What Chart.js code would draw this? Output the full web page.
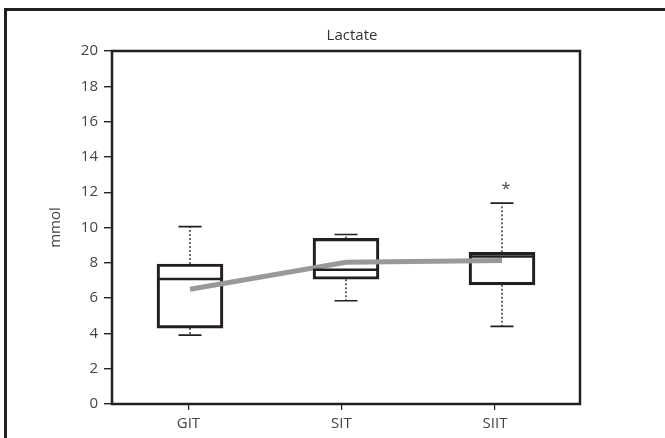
<!DOCTYPE html>
<html>
<head>
<meta charset="utf-8">
<script src="https://cdn.jsdelivr.net/npm/chart.js@4/dist/chart.umd.min.js"></script>
<style>
  html, body { margin: 0; padding: 0; background: #fff; }
  #wrap { width: 665px; height: 438px; position: relative; }
</style>
</head>
<body>
<div id="wrap"><canvas id="lactateChart" width="665" height="438"></canvas></div>
<script>
// values (mmol)
const categories = ["GIT", "SIT", "SIIT"];
const whiskerLow = [3.9, 5.85, 4.4];
const q1 = [4.3, 7.07, 6.75];
const median = [7.08, 7.6, 8.35];
const q3 = [7.93, 9.38, 8.6];
const whiskerHigh = [10.05, 9.6, 11.38];
const means = [6.5, 8.03, 8.13];
const outlierMark = [null, null, 12.3];
// label positions on the x axis, slightly off the box centres in the original
const tickPositions = [0.99, 1.97, 2.955];

const INK = "#231f20";
const TEXT = "#444";
const FONT = "'Open Sans', 'DejaVu Sans', sans-serif";

const boxPlotParts = {
  id: "boxPlotParts",
  beforeDatasetsDraw(chart) {
    const { ctx, scales: { x, y } } = chart;
    ctx.save();
    categories.forEach((_, i) => {
      const cx = x.getPixelForValue(i + 1);
      const half = 11.5;
      // dotted whiskers
      ctx.strokeStyle = INK;
      ctx.lineWidth = 1.3;
      ctx.setLineDash([2, 2]);
      ctx.beginPath();
      ctx.moveTo(cx, y.getPixelForValue(q3[i]));
      ctx.lineTo(cx, y.getPixelForValue(whiskerHigh[i]));
      ctx.moveTo(cx, y.getPixelForValue(q1[i]));
      ctx.lineTo(cx, y.getPixelForValue(whiskerLow[i]));
      ctx.stroke();
      // caps
      ctx.setLineDash([]);
      ctx.lineWidth = 1.6;
      ctx.beginPath();
      [whiskerHigh[i], whiskerLow[i]].forEach((v) => {
        const py = y.getPixelForValue(v);
        ctx.moveTo(cx - half, py);
        ctx.lineTo(cx + half, py);
      });
      ctx.stroke();
    });
    ctx.restore();
  },
  afterDatasetsDraw(chart) {
    const { ctx, scales: { x, y } } = chart;
    ctx.save();
    ctx.strokeStyle = INK;
    ctx.lineWidth = 2.5;
    categories.forEach((_, i) => {
      const cx = x.getPixelForValue(i + 1);
      const py = y.getPixelForValue(median[i]);
      ctx.beginPath();
      ctx.moveTo(cx - 33, py);
      ctx.lineTo(cx + 33, py);
      ctx.stroke();
      if (outlierMark[i] != null) {
        ctx.fillStyle = TEXT;
        ctx.font = "16px " + FONT;
        ctx.textAlign = "center";
        ctx.textBaseline = "middle";
        ctx.fillText("*", cx + 4, y.getPixelForValue(outlierMark[i]) + 3);
      }
    });
    ctx.restore();
  },
  afterDraw(chart) {
    const { ctx, chartArea: a } = chart;
    ctx.save();
    ctx.strokeStyle = INK;
    ctx.lineWidth = 2.5;
    ctx.strokeRect(a.left, a.top, a.right - a.left, a.bottom - a.top);
    // chart title, centred a little right of the plot centre as in the original
    ctx.fillStyle = "#333";
    ctx.font = "15px " + FONT;
    ctx.textAlign = "center";
    ctx.textBaseline = "middle";
    ctx.fillText("Lactate", (a.left + a.right) / 2 + 6, 36);
    // outer figure frame (top and left only)
    ctx.lineWidth = 3;
    ctx.beginPath();
    ctx.moveTo(5.5, 438);
    ctx.lineTo(5.5, 9.5);
    ctx.lineTo(665, 9.5);
    ctx.stroke();
    ctx.restore();
  },
};

new Chart(document.getElementById("lactateChart"), {
  data: {
    datasets: [
      {
        type: "line",
        data: means.map((m, i) => ({ x: i + 1, y: m })),
        borderColor: "#999",
        borderWidth: 5,
        pointRadius: 0,
        tension: 0,
        order: 0,
      },
      {
        type: "bar",
        data: q1.map((lo, i) => ({ x: i + 1, y: [lo, q3[i]] })),
        backgroundColor: "rgba(255,255,255,0)",
        borderColor: INK,
        borderWidth: 2.5,
        borderSkipped: false,
        barThickness: 66,
        order: 1,
      },
    ],
  },
  options: {
    responsive: false,
    animation: false,
    layout: { padding: { left: 0, top: 51, right: 85, bottom: 0 } },
    plugins: {
      legend: { display: false },
      tooltip: { enabled: false },
      title: { display: false },
    },
    scales: {
      x: {
        type: "linear",
        offset: false,
        min: 0.5,
        max: 3.5,
        afterBuildTicks: (axis) => {
          axis.ticks = tickPositions.map((v) => ({ value: v }));
        },
        ticks: {
          color: TEXT,
          font: { family: FONT, size: 15 },
          padding: 5,
          callback: (v, idx) => categories[idx],
        },
        grid: { offset: false, drawOnChartArea: false, drawTicks: true, tickLength: 6, color: INK, lineWidth: 1.2 },
        border: { display: false },
      },
      y: {
        min: 0,
        max: 20,
        afterFit: (axis) => { axis.width = 112; },
        ticks: {
          stepSize: 2,
          color: TEXT,
          font: { family: FONT, size: 15 },
          padding: 6,
        },
        grid: { drawOnChartArea: false, drawTicks: true, tickLength: 8, color: INK, lineWidth: 1.4 },
        border: { display: false },
        title: {
          display: true,
          text: "mmol",
          color: TEXT,
          font: { family: FONT, size: 15 },
          padding: { top: 47, bottom: 0 },
        },
      },
    },
  },
  plugins: [boxPlotParts],
});
</script>
</body>
</html>
